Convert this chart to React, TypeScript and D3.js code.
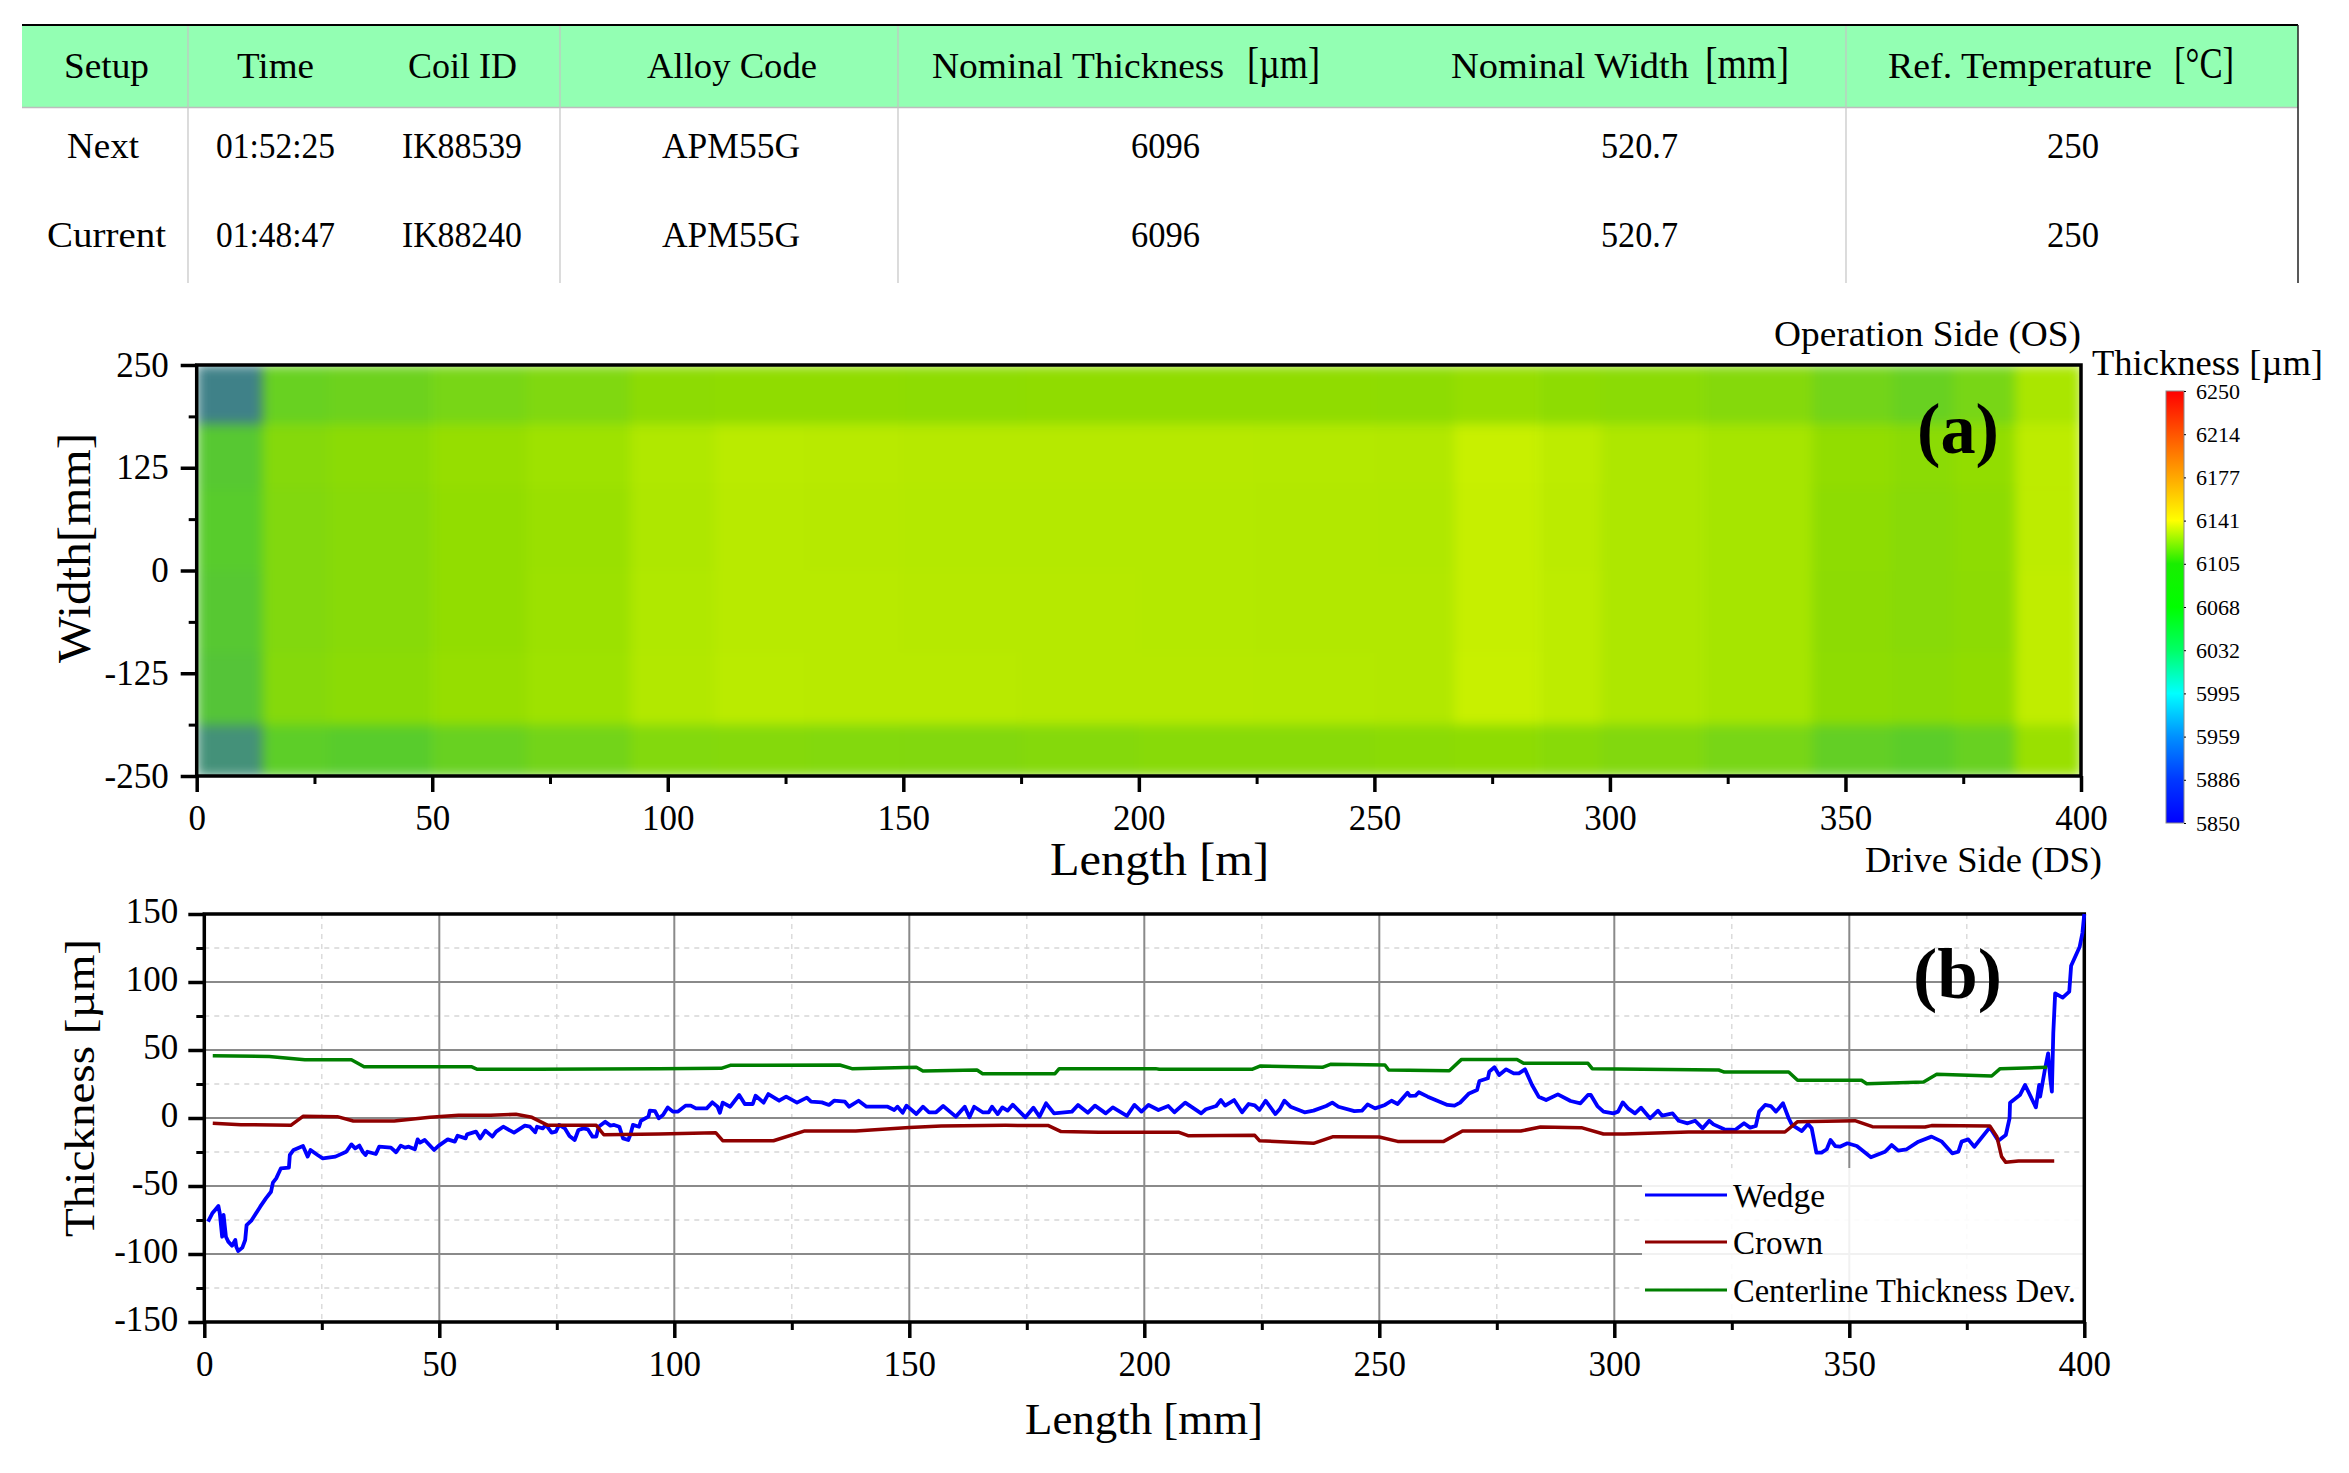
import React, { useEffect, useRef } from "react";
import * as d3 from "d3";

// ── Data ──────────────────────────────────────────────────────────────────────

const tableHeaders = ["Setup", "Time", "Coil ID", "Alloy Code", "Nominal Thickness", "Nominal Width", "Ref. Temperature"];
const headerUnits = ["[µm]", "[mm]", "[°C]"];
const nextRow = ["Next", "01:52:25", "IK88539", "APM55G", "6096", "520.7", "250"];
const currentRow = ["Current", "01:48:47", "IK88240", "APM55G", "6096", "520.7", "250"];

const barTicks = ["6250", "6214", "6177", "6141", "6105", "6068", "6032", "5995", "5959", "5886", "5850"];
const barColors = ["#ff0000", "#ff5500", "#ffa800", "#ffff00", "#19ee00", "#00ff00", "#00ff66", "#00ffff", "#0090ff", "#0038ff", "#0000ff"];

// heatmap grid: length edges [m], width edges [mm], thickness [µm] per cell
const lengthEdges = [0, 14, 28, 50, 70, 92, 110, 130, 150, 175, 200, 225, 250, 267, 285, 298, 320, 343, 360, 373, 386, 400];
const widthEdges = [250, 178, 100, 0, -100, -188, -250];
const thicknessRows = [
  [6038, 6086, 6088, 6092, 6095, 6103, 6105, 6105, 6104, 6105, 6105, 6105, 6104, 6108, 6104, 6102, 6098, 6090, 6086, 6092, 6118],
  [6078, 6098, 6102, 6108, 6112, 6121, 6126, 6125, 6124, 6124, 6124, 6123, 6122, 6135, 6128, 6120, 6116, 6106, 6102, 6106, 6128],
  [6080, 6096, 6100, 6106, 6110, 6120, 6125, 6124, 6123, 6123, 6123, 6122, 6121, 6134, 6127, 6120, 6116, 6104, 6100, 6104, 6128],
  [6078, 6096, 6100, 6106, 6111, 6121, 6125, 6125, 6124, 6124, 6123, 6122, 6122, 6134, 6128, 6120, 6116, 6103, 6100, 6103, 6130],
  [6076, 6098, 6102, 6108, 6112, 6122, 6126, 6125, 6125, 6124, 6124, 6123, 6122, 6136, 6128, 6120, 6116, 6104, 6102, 6105, 6130],
  [6048, 6082, 6080, 6086, 6090, 6097, 6098, 6097, 6096, 6098, 6100, 6100, 6102, 6104, 6100, 6096, 6092, 6084, 6081, 6086, 6110],
];
const rampValues = [6035, 6060, 6080, 6095, 6105, 6115, 6125, 6135];
const rampColors = ["#3d7c8c", "#4aa468", "#58cc2c", "#80d810", "#90dc00", "#a4e400", "#b8ea00", "#c8f000"];

const wedge: [number, number][] = [
  [0.8, -76.2], [1.7, -70.1], [2.3, -67.6], [3, -64.7], [3.3, -70.1], [3.8, -87.3], [4.1, -71.3], [4.6, -87.3], [5.1, -90.9], [5.9, -93.9],
  [6.6, -89.7], [6.8, -94.6], [7.2, -97.8], [8.1, -95.3], [8.7, -89.7], [9, -78.7], [10, -75.5], [11.9, -65.2], [13.1, -59.1], [14.2, -54.2],
  [14.6, -47.5], [15.3, -44.4], [16.3, -37], [18, -36.5], [18.2, -27.2], [19, -23.5], [21, -20.6], [22, -28.4], [22.6, -23.5], [24.1, -27.2],
  [25.2, -29.7], [27.9, -28.4], [30.2, -24.8], [31.3, -19.4], [32.1, -22.3], [33, -20.3], [33.7, -24.8], [34.3, -27.2], [34.7, -24.8], [36.5, -26.5],
  [37.2, -21.1], [39.7, -21.8], [40.8, -25.2], [41.8, -20.3], [42.7, -21.8], [43.5, -21.1], [44.8, -23], [45.4, -15.7], [45.9, -18.1], [46.9, -16.2],
  [47.9, -19.9], [48.9, -23.5], [49.9, -20.3], [51.8, -15.7], [53.3, -17.4], [53.9, -13], [55.6, -15], [55.9, -12], [57.8, -10], [58.7, -15],
  [59.8, -9.3], [61.3, -13.7], [62.1, -10], [63.6, -6.4], [65.9, -10.8], [68.2, -5.6], [69.3, -6.4], [70.4, -10.5], [70.8, -6.4], [72, -7.6],
  [72.7, -5.1], [73.9, -10.8], [74.8, -10], [75.5, -5.1], [76.7, -7.6], [77.7, -13.2], [78.8, -16.2], [79.6, -8.8], [80.7, -7.6], [81.6, -8.3],
  [82.6, -13.7], [83.4, -13.7], [83.9, -6.4], [85.3, -2.7], [86.4, -5.6], [87.2, -5.1], [88.3, -6.4], [89.1, -15], [90.2, -16.2], [90.7, -11.8],
  [91.2, -5.1], [92.5, -6.4], [92.9, -2], [94.5, 1], [94.8, 5.4], [95.9, 5.1], [96.7, -0.2], [97.6, 2.2], [98.6, 7.8], [99.7, 4.7],
  [100.8, 4.7], [102.4, 9.1], [103.5, 9.1], [104.6, 7.1], [106.9, 7.1], [108.1, 11.5], [109.2, 8.3], [109.7, 3.9], [110.3, 11.3], [111.9, 8.3],
  [113.8, 16.9], [115, 10.3], [116.7, 10.3], [117.3, 16.4], [119, 11.3], [120, 17.6], [122.3, 12.7], [123.8, 15.7], [126.1, 11.3], [128.2, 15],
  [129.1, 12], [131.4, 11.5], [132.9, 9.6], [134, 12.7], [136.3, 12], [137.2, 8.3], [139.2, 12.7], [140.9, 8.3], [145.4, 8.3], [146.8, 5.9],
  [147.5, 8.3], [148.6, 3.9], [149.4, 9.1], [151.5, 2.9], [152.9, 8.3], [154.2, 4.2], [155.7, 4.2], [157.2, 8.8], [159.9, 1], [161.8, 8.3],
  [162.8, 0.5], [163.8, 8.3], [165.6, 4.2], [166.9, 4.2], [167.6, 8.3], [168.8, 2.9], [169.8, 7.8], [170.9, 5.4], [172, 9.8], [174.7, 0.5],
  [176.4, 7.6], [177.7, 1], [179.1, 10.8], [180.8, 3.4], [184.6, 4.7], [185.9, 9.6], [188, 3.9], [189.5, 9.1], [191.8, 3.4], [193.3, 7.8],
  [196.3, 1.5], [197.9, 9.6], [199.4, 4.7], [200.9, 9.6], [203, 5.9], [205.1, 8.8], [206.4, 4.2], [208.7, 11.3], [212.1, 3.4], [213.1, 6.4],
  [215.3, 8.8], [216.3, 13.2], [217.2, 9.1], [219.1, 13.2], [220.8, 4.2], [222.2, 10.3], [223.5, 9.3], [224.5, 5.9], [225.8, 12.7], [227.9, 2.9],
  [228.8, 6.4], [229.8, 12.7], [231.1, 8.3], [234.1, 4.2], [236, 5.4], [238.7, 8.8], [240, 11.3], [241.3, 8.3], [244.7, 5.1], [246.3, 5.4],
  [247.5, 10], [249.1, 7.1], [251.2, 9.6], [252.6, 12.7], [253.9, 10.3], [256, 18.6], [256.5, 16.2], [257.7, 16.4], [258.4, 18.9], [260.3, 15.7],
  [264.5, 9.6], [266, 9.1], [267.2, 11.3], [269.1, 18.1], [270.8, 20.6], [271.3, 27.2], [273.1, 29.2], [273.4, 34.1], [274.5, 37.3], [275.5, 31.6],
  [277, 35.8], [278.6, 32.8], [279.7, 32.8], [281, 35.8], [282.5, 24.3], [283.9, 15.7], [285.5, 13.2], [288, 17.4], [290.7, 12.5], [292.8, 10.8],
  [294.4, 16.9], [295, 16.9], [296.4, 8.8], [297.7, 4.7], [299.8, 3.4], [300.8, 4.7], [301.8, 11.5], [302.9, 7.1], [304.4, 3.4], [305.7, 7.6],
  [307.6, -0.2], [309.3, 5.4], [310.2, 1.7], [312.4, 3.4], [313.7, -2], [315.6, -3.9], [317.2, -2], [318.8, -7.6], [320.2, -2], [321.1, -4.7],
  [323.4, -8.3], [325.7, -8.8], [327.6, -3.9], [328.9, -7.1], [330.1, -5.9], [330.8, 4.7], [332.1, 9.6], [333.3, 8.8], [334.4, 4.7], [335.9, 10.8],
  [337.1, -0.2], [337.8, -5.1], [339.9, -9.6], [341.2, -4.4], [342, -7.6], [343, -25.5], [344.1, -25.5], [345.2, -23], [346, -16.2], [347, -20.6],
  [348, -21.1], [349.6, -18.6], [351.6, -20.6], [354.6, -28.9], [357.6, -24.8], [359, -19.9], [360.4, -24], [362.2, -23], [364.7, -17.4], [367.5, -13.7],
  [369.7, -17.4], [371.9, -26], [373.2, -24.8], [373.9, -17.4], [375.3, -15.7], [376.6, -21.1], [379.9, -6.9], [381.7, -16.7], [383.3, -12.5], [384.1, -0.2],
  [384.2, 11.3], [386.3, 16.9], [387.4, 24.3], [389.7, 7.8], [390.4, 24.3], [390.6, 15.7], [391.6, 35.3], [392.3, 47.5], [392.8, 27.9], [393.1, 19.4],
  [393.4, 62.3], [393.8, 91.7], [395.4, 88.5], [396.8, 92.9], [397.2, 112], [399, 125.7], [399.6, 136], [400, 150],
];

const crown: [number, number][] = [
  [1.8, -3.9], [7.8, -4.9], [18.4, -5.4], [21, 1.2], [28.3, 1], [31.7, -2.2], [40.4, -2.2], [48, 0.5], [54.1, 2], [60.9, 2],
  [66.3, 2.7], [69.7, 0.5], [73.1, -5.4], [83.4, -5.4], [85, -12.3], [96.7, -11.8], [108.8, -10.8], [110.3, -16.7], [121.1, -16.7], [127.6, -9.6],
  [138.6, -9.6], [150, -6.9], [156.8, -5.9], [170.5, -5.4], [179.6, -5.6], [182.3, -10], [190.3, -10.5], [207.4, -10.5], [209.3, -13], [223.5, -12.7],
  [224.5, -16.7], [236, -18.6], [240.2, -13.7], [250, -14], [253.9, -17.2], [263.7, -17.2], [267.7, -9.6], [280.1, -9.6], [284.3, -6.6], [293, -7.1],
  [297.7, -11.8], [302.1, -11.8], [315.8, -10.3], [336.3, -10.3], [339, -2.7], [351.2, -2], [354.9, -6.4], [366.1, -6.6], [367.5, -5.6], [379.9, -5.9],
  [381.4, -13.7], [382.4, -28.4], [383.3, -32.6], [386, -31.6], [393.6, -31.6],
];

const centerline: [number, number][] = [
  [1.8, 45.8], [13.8, 45.3], [21.4, 42.9], [31.3, 42.9], [34, 37.7], [56.8, 37.7], [58.1, 35.8], [70.8, 35.8], [96.7, 36.3], [110, 36.5],
  [111.9, 38.7], [135.2, 39], [137.8, 36.3], [151.5, 37.3], [152.9, 34.6], [164.4, 35.3], [165.6, 32.6], [181, 32.6], [181.9, 36.3], [202.4, 36.3],
  [203.2, 35.8], [222.9, 35.8], [224.6, 38.2], [237.9, 37.3], [239.6, 39.5], [251.2, 39], [252, 35.3], [264.9, 34.8], [267.5, 43.1], [279.3, 43.1],
  [280.7, 40.2], [294.4, 40.2], [295.3, 36.3], [322.2, 35.3], [323.4, 33.8], [337.1, 33.8], [339, 27.7], [352.6, 27.7], [353.7, 25.2], [365.8, 26.5],
  [368.6, 32.1], [380.3, 30.9], [382.1, 36.3], [392.1, 37.3],
];

const legendLabels = ["Wedge", "Crown", "Centerline Thickness Dev."];
const legendColors = ["#0000ff", "#8f0000", "#007f00"];

// ── Layout ────────────────────────────────────────────────────────────────────

const WIDTH = 2349;
const HEIGHT = 1473;
const FONT = "'Liberation Serif', serif";
const HEAT = { left: 196.7, right: 2081, top: 365, bottom: 776 };
const LINE = { left: 204.3, right: 2084.3, top: 914, bottom: 1322 };
const BAR = { left: 2166, right: 2184, top: 391, bottom: 823 };

// [x, text width] of each table cell
const headerBoxes = [[64, 85], [237, 77], [408, 109], [647, 170], [932, 292], [1451, 238], [1888, 264]];
const unitBoxes = [[1247, 73], [1705, 84], [2174, 60]];
const nextBoxes = [[67, 72], [216, 119], [402, 120], [662, 138], [1131, 69], [1601, 77], [2047, 52]];
const currentBoxes = [[47, 119], [216, 119], [402, 120], [662, 138], [1131, 69], [1601, 77], [2047, 52]];
const tableLines = [188, 560, 898, 1846];

type Sel = d3.Selection<any, unknown, null, undefined>;

function label(g: Sel, str: string, x: number, y: number, size: number, len?: number, weight = "normal") {
  const t = g
    .append("text")
    .attr("x", x)
    .attr("y", y)
    .attr("font-family", FONT)
    .attr("font-size", size)
    .attr("font-weight", weight)
    .attr("fill", "#000")
    .text(str);
  if (len) t.attr("textLength", len).attr("lengthAdjust", "spacingAndGlyphs");
  return t;
}

function drawTable(svg: Sel) {
  const g = svg.append("g");
  g.append("rect").attr("x", 22).attr("y", 25).attr("width", 2276).attr("height", 82).attr("fill", "#93ffb3");
  g.append("line").attr("x1", 22).attr("x2", 2298).attr("y1", 25).attr("y2", 25).attr("stroke", "#000").attr("stroke-width", 2);
  g.append("line").attr("x1", 22).attr("x2", 2298).attr("y1", 107.5).attr("y2", 107.5).attr("stroke", "#bdbdbd").attr("stroke-width", 1.5);
  tableLines.forEach((x) => {
    g.append("line").attr("x1", x).attr("x2", x).attr("y1", 26).attr("y2", 283).attr("stroke", "#c4c4c4").attr("stroke-width", 1.2);
  });
  g.append("line").attr("x1", 2298).attr("x2", 2298).attr("y1", 25).attr("y2", 283).attr("stroke", "#222").attr("stroke-width", 1.5);

  tableHeaders.forEach((h, i) => label(g, h, headerBoxes[i][0], 78, 36, headerBoxes[i][1]));
  headerUnits.forEach((u, i) => label(g, u, unitBoxes[i][0], 78, 44, unitBoxes[i][1]));
  nextRow.forEach((c, i) => label(g, c, nextBoxes[i][0], 158, 36, nextBoxes[i][1]));
  currentRow.forEach((c, i) => label(g, c, currentBoxes[i][0], 247, 36, currentBoxes[i][1]));
}

function styleAxis(ax: Sel, fontSize: number, tickWidth: number) {
  ax.select(".domain").remove();
  ax.selectAll(".tick line").attr("stroke", "#000").attr("stroke-width", tickWidth);
  ax.selectAll(".tick text").attr("font-family", FONT).attr("font-size", fontSize).attr("fill", "#000");
  ax.attr("font-family", null).attr("font-size", null);
}

function drawHeatmap(svg: Sel) {
  const x = d3.scaleLinear().domain([0, 400]).range([HEAT.left, HEAT.right]);
  const y = d3.scaleLinear().domain([-250, 250]).range([HEAT.bottom, HEAT.top]);
  const color = d3.scaleLinear<string>().domain(rampValues).range(rampColors).clamp(true);

  const defs = svg.append("defs");
  defs.append("filter").attr("id", "heat-blur").attr("x", "-2%").attr("y", "-5%").attr("width", "104%").attr("height", "110%")
    .attr("color-interpolation-filters", "sRGB")
    .append("feGaussianBlur").attr("stdDeviation", 6);
  defs.append("clipPath").attr("id", "heat-clip").append("rect")
    .attr("x", HEAT.left).attr("y", HEAT.top).attr("width", HEAT.right - HEAT.left).attr("height", HEAT.bottom - HEAT.top);

  const cells = svg.append("g").attr("clip-path", "url(#heat-clip)").append("g").attr("filter", "url(#heat-blur)");
  thicknessRows.forEach((row, r) => {
    cells.selectAll(`rect.r${r}`)
      .data(row)
      .join("rect")
      .attr("class", `r${r}`)
      .attr("x", (_, c) => x(lengthEdges[c]))
      .attr("y", y(widthEdges[r]))
      .attr("width", (_, c) => x(lengthEdges[c + 1]) - x(lengthEdges[c]) + 0.6)
      .attr("height", y(widthEdges[r + 1]) - y(widthEdges[r]) + 0.6)
      .attr("fill", (d) => color(d));
  });

  svg.append("rect")
    .attr("x", HEAT.left).attr("y", HEAT.top).attr("width", HEAT.right - HEAT.left).attr("height", HEAT.bottom - HEAT.top)
    .attr("fill", "none").attr("stroke", "#000").attr("stroke-width", 3.5);

  const bottom = `translate(0,${HEAT.bottom})`;
  const left = `translate(${HEAT.left},0)`;
  svg.append("g").attr("transform", bottom)
    .call(d3.axisBottom(x).tickValues(d3.range(25, 400, 50)).tickSize(8).tickFormat(() => ""))
    .call((ax: Sel) => styleAxis(ax, 35, 3));
  svg.append("g").attr("transform", bottom)
    .call(d3.axisBottom(x).tickValues(d3.range(0, 401, 50)).tickSize(16).tickPadding(13).tickFormat((v) => String(v)))
    .call((ax: Sel) => styleAxis(ax, 35, 3.5));
  svg.append("g").attr("transform", left)
    .call(d3.axisLeft(y).tickValues([-187.5, -62.5, 62.5, 187.5]).tickSize(8).tickFormat(() => ""))
    .call((ax: Sel) => styleAxis(ax, 35, 3));
  svg.append("g").attr("transform", left)
    .call(d3.axisLeft(y).tickValues([-250, -125, 0, 125, 250]).tickSize(16).tickPadding(12).tickFormat((v) => String(v)))
    .call((ax: Sel) => styleAxis(ax, 35, 3.5));

  label(svg, "Width[mm]", 0, 0, 46, 230).attr("transform", "translate(90,663) rotate(-90)");
  label(svg, "Length [m]", 1050, 875, 46, 219);
  label(svg, "Operation Side (OS)", 1774, 346, 35, 307);
  label(svg, "Drive Side (DS)", 1865, 872, 35, 237);
  label(svg, "(a)", 1917, 453, 72, 82, "bold");
}

function drawColorbar(svg: Sel) {
  const y = d3.scalePoint<string>().domain(barTicks).range([BAR.top, BAR.bottom]);
  const grad = svg.select("defs").append("linearGradient").attr("id", "bar-grad").attr("x1", 0).attr("x2", 0).attr("y1", 0).attr("y2", 1);
  barTicks.forEach((t, i) => {
    grad.append("stop")
      .attr("offset", (y(t)! - BAR.top) / (BAR.bottom - BAR.top))
      .attr("stop-color", barColors[i]);
  });
  svg.append("rect")
    .attr("x", BAR.left).attr("y", BAR.top).attr("width", BAR.right - BAR.left).attr("height", BAR.bottom - BAR.top)
    .attr("fill", "url(#bar-grad)").attr("stroke", "#8a8a8a").attr("stroke-width", 1);
  svg.append("g").attr("transform", `translate(${BAR.right},0)`)
    .call(d3.axisRight(y).tickSize(2).tickPadding(10))
    .call((ax: Sel) => styleAxis(ax, 22, 1));
  label(svg, "Thickness [µm]", 2092, 375, 35, 231);
}

function drawLines(svg: Sel) {
  const x = d3.scaleLinear().domain([0, 400]).range([LINE.left, LINE.right]);
  const y = d3.scaleLinear().domain([-150, 150]).range([LINE.bottom, LINE.top]);
  const xMajor = d3.range(0, 401, 50);
  const xMinor = d3.range(25, 400, 50);
  const yMajor = d3.range(-150, 151, 50);
  const yMinor = d3.range(-125, 150, 50);

  const grid = svg.append("g");
  xMinor.forEach((v) => {
    grid.append("line").attr("x1", x(v)).attr("x2", x(v)).attr("y1", LINE.top).attr("y2", LINE.bottom)
      .attr("stroke", "#d6d6d6").attr("stroke-width", 1.3).attr("stroke-dasharray", "5,5");
  });
  yMinor.forEach((v) => {
    grid.append("line").attr("x1", LINE.left).attr("x2", LINE.right).attr("y1", y(v)).attr("y2", y(v))
      .attr("stroke", "#d6d6d6").attr("stroke-width", 1.3).attr("stroke-dasharray", "5,5");
  });
  xMajor.forEach((v) => {
    grid.append("line").attr("x1", x(v)).attr("x2", x(v)).attr("y1", LINE.top).attr("y2", LINE.bottom)
      .attr("stroke", "#8a8a8a").attr("stroke-width", 2);
  });
  yMajor.forEach((v) => {
    grid.append("line").attr("x1", LINE.left).attr("x2", LINE.right).attr("y1", y(v)).attr("y2", y(v))
      .attr("stroke", "#8a8a8a").attr("stroke-width", 2);
  });

  // legend veil sits over the grid
  svg.append("rect").attr("x", 1642).attr("y", 1168).attr("width", LINE.right - 1642).attr("height", LINE.bottom - 1168)
    .attr("fill", "#fff").attr("opacity", 0.88);

  svg.append("rect")
    .attr("x", LINE.left).attr("y", LINE.top).attr("width", LINE.right - LINE.left).attr("height", LINE.bottom - LINE.top)
    .attr("fill", "none").attr("stroke", "#000").attr("stroke-width", 3.5);

  // series go over the frame, the wedge runs up the right edge
  const path = d3.line<[number, number]>().x((d) => x(d[0])).y((d) => y(d[1]));
  [wedge, crown, centerline].forEach((s, i) => {
    svg.append("path").attr("d", path(s)!).attr("fill", "none").attr("stroke", legendColors[i])
      .attr("stroke-width", i === 0 ? 3.8 : 3.5).attr("stroke-linejoin", "round");
  });

  const bottom = `translate(0,${LINE.bottom})`;
  const left = `translate(${LINE.left},0)`;
  svg.append("g").attr("transform", bottom)
    .call(d3.axisBottom(x).tickValues(xMinor).tickSize(8).tickFormat(() => ""))
    .call((ax: Sel) => styleAxis(ax, 35, 3));
  svg.append("g").attr("transform", bottom)
    .call(d3.axisBottom(x).tickValues(xMajor).tickSize(16).tickPadding(13).tickFormat((v) => String(v)))
    .call((ax: Sel) => styleAxis(ax, 35, 3.5));
  svg.append("g").attr("transform", left)
    .call(d3.axisLeft(y).tickValues(yMinor).tickSize(8).tickFormat(() => ""))
    .call((ax: Sel) => styleAxis(ax, 35, 3));
  svg.append("g").attr("transform", left)
    .call(d3.axisLeft(y).tickValues(yMajor).tickSize(16).tickPadding(10).tickFormat((v) => String(v)))
    .call((ax: Sel) => styleAxis(ax, 35, 3.5))
    .call((ax: Sel) => ax.selectAll(".tick text").attr("dy", "0.25em"));

  label(svg, "Thickness [µm]", 0, 0, 42, 298).attr("transform", "translate(94,1237) rotate(-90)");
  label(svg, "Length [mm]", 1025, 1434, 44, 238);
  label(svg, "(b)", 1913, 998, 72, 89, "bold");

  legendLabels.forEach((name, i) => {
    const ly = [1195, 1242, 1290][i];
    svg.append("line").attr("x1", 1645).attr("x2", 1727).attr("y1", ly).attr("y2", ly)
      .attr("stroke", legendColors[i]).attr("stroke-width", 3);
    label(svg, name, 1733, ly + 12, 34, [92, 90, 343][i]);
  });
}

export default function App() {
  const svgRef = useRef<SVGSVGElement>(null);

  useEffect(() => {
    if (!svgRef.current) return;
    const svg = d3.select(svgRef.current) as unknown as Sel;
    svg.selectAll("*").remove();
    drawTable(svg);
    drawHeatmap(svg);
    drawColorbar(svg);
    drawLines(svg);
  }, []);

  return (
    <svg
      ref={svgRef}
      width={WIDTH}
      height={HEIGHT}
      style={{ position: "absolute", left: 0, top: 0, background: "#fff", display: "block" }}
    />
  );
}
